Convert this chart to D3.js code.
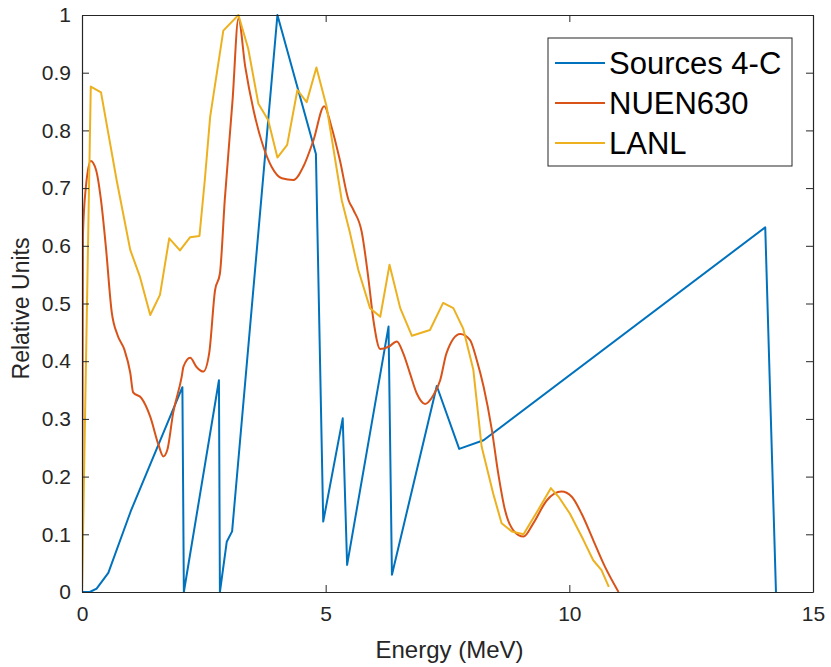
<!DOCTYPE html>
<html><head><meta charset="utf-8">
<script src="https://cdn.jsdelivr.net/npm/d3@7"></script>
<style>body{margin:0;background:#fff}svg{display:block}</style>
</head><body>
<svg id="chart" width="831" height="667"></svg>
<script>
// ---- data ----
const seriesNames = ["Sources 4-C", "NUEN630", "LANL"];
const seriesColors = ["#0072BD", "#D95319", "#EDB120"];
const xTicks = [0, 5, 10, 15];
const yTicks = [0, 0.1, 0.2, 0.3, 0.4, 0.5, 0.6, 0.7, 0.8, 0.9, 1];

const sourcesE = [0, 0.16, 0.30, 0.54, 1.0, 2.06, 2.09, 2.81, 2.83, 2.97, 3.08, 4.01, 4.80, 4.95, 5.35, 5.44, 6.29, 6.36, 7.28, 7.74, 8.24, 14.02, 14.24];
const sourcesY = [0, 0, 0.006, 0.033, 0.14, 0.355, 0, 0.367, 0, 0.087, 0.105, 1.0, 0.759, 0.122, 0.301, 0.047, 0.46, 0.03, 0.357, 0.248, 0.263, 0.632, 0];

const nuenE = [0, 0.02, 0.08, 0.18, 0.29, 0.39, 0.49, 0.61, 0.73, 0.87, 0.99, 1.05, 1.22, 1.40, 1.57, 1.67, 1.75, 1.87, 2.05, 2.08, 2.22, 2.35, 2.49, 2.61, 2.73, 2.83, 2.93, 3.09, 3.21, 3.35, 3.52, 3.72, 3.89, 4.10, 4.34, 4.54, 4.75, 4.97, 5.12, 5.29, 5.47, 5.57, 5.74, 5.88, 5.98, 6.12, 6.29, 6.46, 6.59, 6.73, 6.87, 7.04, 7.21, 7.35, 7.48, 7.76, 7.96, 8.10, 8.24, 8.41, 8.54, 8.68, 8.85, 9.06, 9.26, 9.54, 9.84, 10.05, 10.25, 10.49, 10.73, 11.01];
const nuenY = [0, 0.62, 0.702, 0.747, 0.731, 0.679, 0.598, 0.485, 0.445, 0.42, 0.38, 0.346, 0.336, 0.304, 0.255, 0.235, 0.246, 0.31, 0.375, 0.39, 0.406, 0.39, 0.382, 0.414, 0.523, 0.552, 0.68, 0.853, 0.994, 0.91, 0.835, 0.772, 0.737, 0.717, 0.714, 0.737, 0.783, 0.842, 0.806, 0.749, 0.679, 0.662, 0.624, 0.541, 0.471, 0.421, 0.425, 0.434, 0.414, 0.379, 0.344, 0.326, 0.341, 0.367, 0.414, 0.447, 0.437, 0.402, 0.356, 0.281, 0.206, 0.142, 0.107, 0.096, 0.119, 0.159, 0.174, 0.165, 0.136, 0.090, 0.044, 0];

const lanlE = [0, 0.18, 0.39, 0.71, 0.99, 1.19, 1.40, 1.60, 1.79, 2.01, 2.22, 2.41, 2.52, 2.63, 2.90, 3.21, 3.41, 3.62, 3.82, 4.01, 4.21, 4.42, 4.61, 4.81, 5.02, 5.33, 5.50, 5.67, 5.91, 6.12, 6.31, 6.53, 6.77, 7.14, 7.41, 7.62, 7.82, 8.03, 8.20, 8.44, 8.61, 8.82, 9.06, 9.36, 9.62, 9.78, 10.01, 10.29, 10.49, 10.66, 10.81];
const lanlY = [0, 0.876, 0.866, 0.714, 0.593, 0.546, 0.48, 0.515, 0.613, 0.592, 0.615, 0.617, 0.714, 0.824, 0.973, 1.0, 0.942, 0.846, 0.818, 0.753, 0.775, 0.870, 0.849, 0.909, 0.841, 0.679, 0.622, 0.558, 0.492, 0.477, 0.567, 0.492, 0.444, 0.454, 0.501, 0.492, 0.457, 0.385, 0.252, 0.170, 0.119, 0.105, 0.10, 0.142, 0.180, 0.165, 0.136, 0.090, 0.055, 0.038, 0.009];

const seriesE = [sourcesE, nuenE, lanlE];
const seriesY = [sourcesY, nuenY, lanlY];
const seriesSmooth = [false, true, false];

// ---- layout ----
const svg = d3.select("#chart");
const L = 82, R = 813, T = 15, B = 592;
const axisColor = "#262626";
const font = "'Liberation Sans', Arial, Helvetica, sans-serif";

const x = d3.scaleLinear().domain([0, 15]).range([L, R]);
const y = d3.scaleLinear().domain([0, 1]).range([B, T]);

svg.append("clipPath").attr("id", "clip")
  .append("rect").attr("x", L).attr("y", T - 2).attr("width", R - L).attr("height", B - T + 4);

const plot = svg.append("g").attr("clip-path", "url(#clip)");
seriesNames.forEach((n, i) => {
  const pts = seriesE[i].map((e, k) => [e, seriesY[i][k]]);
  const line = d3.line().x(d => x(d[0])).y(d => y(d[1]))
    .curve(seriesSmooth[i] ? d3.curveMonotoneX : d3.curveLinear);
  plot.append("path").datum(pts)
    .attr("d", line).attr("fill", "none")
    .attr("stroke", seriesColors[i]).attr("stroke-width", 2)
    .attr("stroke-linejoin", "round");
});

// axes (MATLAB style: inward ticks, box)
const tickLen = 7;
const styleAxis = g => {
  g.select(".domain").attr("stroke", axisColor).attr("stroke-width", 1.2);
  g.selectAll(".tick line").attr("stroke", axisColor).attr("stroke-width", 1);
  g.selectAll("text").attr("fill", axisColor).attr("font-family", font).attr("font-size", 21);
};
svg.append("g").attr("transform", `translate(0,${B})`)
  .call(d3.axisBottom(x).tickValues(xTicks).tickFormat(d3.format("d")).tickSizeInner(-tickLen).tickSizeOuter(0).tickPadding(14))
  .call(styleAxis);
svg.append("g").attr("transform", `translate(0,${T})`)
  .call(d3.axisTop(x).tickValues(xTicks).tickFormat("").tickSizeInner(-tickLen).tickSizeOuter(0))
  .call(styleAxis);
svg.append("g").attr("transform", `translate(${L},0)`)
  .call(d3.axisLeft(y).tickValues(yTicks).tickFormat(d => d === 0 || d === 1 ? d3.format("d")(d) : d3.format(".1f")(d)).tickSizeInner(-tickLen).tickSizeOuter(0).tickPadding(11))
  .call(styleAxis);
svg.append("g").attr("transform", `translate(${R},0)`)
  .call(d3.axisRight(y).tickValues(yTicks).tickFormat("").tickSizeInner(-tickLen).tickSizeOuter(0))
  .call(styleAxis);

// axis labels
svg.append("text").attr("x", (L + R) / 2 + 2).attr("y", 658).attr("text-anchor", "middle")
  .attr("font-family", font).attr("font-size", 24).attr("fill", axisColor).text("Energy (MeV)");
svg.append("text").attr("transform", `translate(29,${(T + B) / 2 + 5}) rotate(-90)`).attr("text-anchor", "middle")
  .attr("font-family", font).attr("font-size", 23).attr("fill", axisColor).text("Relative Units");

// legend
const lg = svg.append("g");
lg.append("rect").attr("x", 548).attr("y", 38).attr("width", 244).attr("height", 128)
  .attr("fill", "#fff").attr("stroke", axisColor).attr("stroke-width", 1);
seriesNames.forEach((n, i) => {
  const cy = 63 + i * 40;
  lg.append("line").attr("x1", 555).attr("x2", 605).attr("y1", cy).attr("y2", cy)
    .attr("stroke", seriesColors[i]).attr("stroke-width", 2);
  lg.append("text").attr("x", 609).attr("y", cy).attr("dy", "0.36em")
    .attr("font-family", font).attr("font-size", 31).attr("fill", "#000").text(n);
});
</script>
</body></html>
